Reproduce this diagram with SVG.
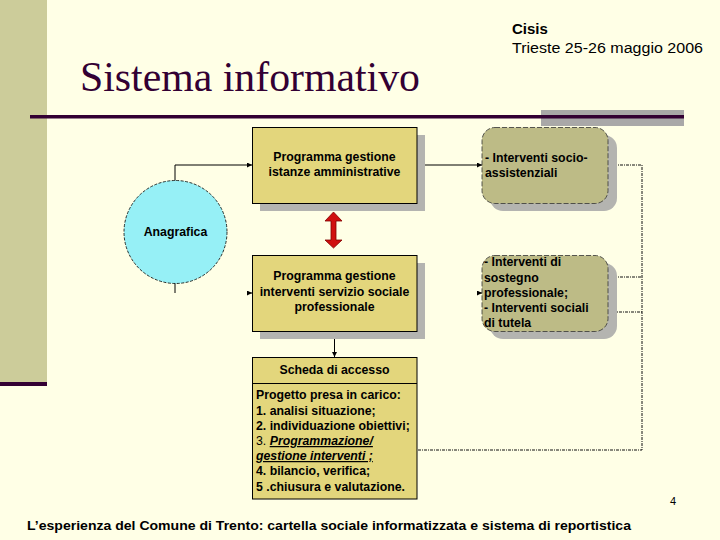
<svg xmlns="http://www.w3.org/2000/svg" width="720" height="540" viewBox="0 0 720 540">
<style>
.t{font-family:"Liberation Sans",Arial,sans-serif;font-weight:bold;font-size:12.3px;fill:#000}
.box{fill:#E3D67C;stroke:#000;stroke-width:1}
.rbox{fill:#BDBB86;stroke:#333;stroke-width:0.8;stroke-dasharray:5 2}
.sh{fill:#B4B4B0}
.ln{fill:none;stroke:#000;stroke-width:1}
.dl{fill:none;stroke:#111;stroke-width:1;stroke-dasharray:3 1 1 1}
</style>
<defs>
<marker id="ah" viewBox="0 0 6 6" refX="6" refY="3" markerWidth="5" markerHeight="5" orient="auto" markerUnits="userSpaceOnUse">
<path d="M0,0 L6,3 L0,6 Z" fill="#000"/>
</marker>
</defs>
<rect width="720" height="540" fill="#FFFFE6"/>
<rect x="0" y="0" width="47" height="383" fill="#CCCC9A"/>
<rect x="0" y="382" width="47" height="4" fill="#330033"/>
<rect x="541" y="110" width="143" height="16" fill="#A9A8A8"/>
<rect x="30" y="115" width="654" height="3.5" fill="#330033"/>
<text x="80" y="91" font-family="'Liberation Serif','Times New Roman',serif" font-size="43" fill="#330033" textLength="340" lengthAdjust="spacingAndGlyphs">Sistema informativo</text>
<text x="512" y="34" font-family="'Liberation Sans',Arial,sans-serif" font-size="15" font-weight="bold" fill="#000">Cisis</text>
<text x="512" y="53" font-family="'Liberation Sans',Arial,sans-serif" font-size="14" fill="#000" textLength="191" lengthAdjust="spacingAndGlyphs">Trieste 25-26 maggio 2006</text>

<g id="connectors">
<polyline class="ln" points="175,181 175,165 252,165" marker-end="url(#ah)"/>
<line class="ln" x1="175" y1="283" x2="175" y2="293"/>
<line class="ln" x1="249" y1="293" x2="252" y2="293" marker-end="url(#ah)"/>
<line class="ln" x1="417" y1="165" x2="482" y2="165" marker-end="url(#ah)"/>
<line class="ln" x1="480" y1="293" x2="482" y2="293" marker-end="url(#ah)"/>
<line class="ln" x1="334.5" y1="331" x2="334.5" y2="357" marker-end="url(#ah)"/>
<polyline class="dl" points="608,165 642,165 642,450 418,450"/>
<line class="dl" x1="608" y1="277" x2="642" y2="277"/>
<line class="dl" x1="613" y1="312" x2="642" y2="312"/>
<path d="M333.5,212 L342,221 L336,221 L336,240 L342,240 L333.5,248 L325,240 L331,240 L331,221 L325,221 Z" fill="#D01010" stroke="#800000" stroke-width="0.8"/>
</g>

<g id="anagrafica">
<circle cx="175.5" cy="232" r="51.5" fill="#96F0F6" stroke="#000" stroke-width="0.8" stroke-dasharray="3 1.5"/>
<text class="t" x="175.5" y="235.5" text-anchor="middle">Anagrafica</text>
</g>

<g id="box-istanze">
<rect class="sh" x="260" y="135" width="165" height="76"/>
<rect class="box" x="252.5" y="127.5" width="164.5" height="76"/>
<text class="t" x="334.5" y="161" text-anchor="middle">Programma gestione</text>
<text class="t" x="334.5" y="176" text-anchor="middle">istanze amministrative</text>
</g>

<g id="box-interventi">
<rect class="sh" x="260" y="263" width="165" height="76"/>
<rect class="box" x="252.5" y="255.5" width="164.5" height="76"/>
<text class="t" x="334.5" y="280" text-anchor="middle">Programma gestione</text>
<text class="t" x="334.5" y="296" text-anchor="middle">interventi servizio sociale</text>
<text class="t" x="334.5" y="311" text-anchor="middle">professionale</text>
</g>

<g id="box-socioassistenziali">
<rect class="sh" x="490" y="135" width="127" height="76" rx="13"/>
<rect class="rbox" x="482" y="127.5" width="126" height="76" rx="13"/>
<text class="t" x="485" y="162">- Interventi socio-</text>
<text class="t" x="485" y="177">assistenziali</text>
</g>

<g id="box-sostegno">
<rect class="sh" x="490" y="263" width="127" height="76" rx="13"/>
<rect class="rbox" x="482" y="255.5" width="126" height="76" rx="13"/>
<text class="t" x="484" y="266">- Interventi di</text>
<text class="t" x="484" y="281.5">sostegno</text>
<text class="t" x="484" y="297">professionale;</text>
<text class="t" x="484" y="312">- Interventi sociali</text>
<text class="t" x="484" y="327">di tutela</text>
</g>

<g id="scheda">
<rect class="box" x="252.5" y="357.5" width="164.5" height="141.5"/>
<line class="ln" x1="252.5" y1="383.5" x2="417" y2="383.5"/>
<text class="t" x="334.5" y="374" text-anchor="middle">Scheda di accesso</text>
<text class="t" x="256" y="399">Progetto presa in carico:</text>
<text class="t" x="256" y="414.5">1. analisi situazione;</text>
<text class="t" x="256" y="430">2. individuazione obiettivi;</text>
<text class="t" x="256" y="445"><tspan font-weight="normal">3. </tspan><tspan font-style="italic" text-decoration="underline">Programmazione/</tspan></text>
<text class="t" x="256" y="460" font-style="italic" text-decoration="underline">gestione interventi ;</text>
<text class="t" x="256" y="475">4. bilancio, verifica;</text>
<text class="t" x="256" y="490.5">5 .chiusura e valutazione.</text>
</g>

<text x="670" y="505" font-family="'Liberation Sans',Arial,sans-serif" font-size="11" fill="#000">4</text>
<text x="27" y="530" font-family="'Liberation Sans',Arial,sans-serif" font-size="13" font-weight="bold" fill="#000" textLength="604" lengthAdjust="spacingAndGlyphs">L’esperienza del Comune di Trento: cartella sociale informatizzata e sistema di reportistica</text>
</svg>
